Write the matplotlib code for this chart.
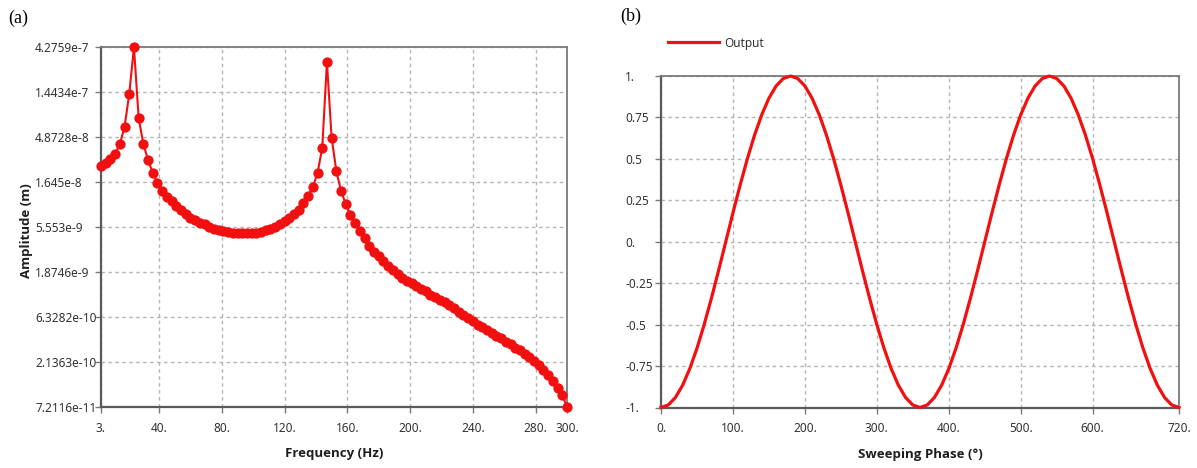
import matplotlib
matplotlib.use("Agg")
import matplotlib.pyplot as plt

# ---------------- data: panel (a) frequency response ----------------
freq_hz = [3, 6, 9, 12, 15, 18, 21, 24, 27, 30, 33, 36, 39, 42, 45, 48, 51, 54, 57, 60,
           63, 66, 69, 72, 75, 78, 81, 84, 87, 90, 93, 96, 99, 102, 105, 108, 111, 114, 117, 120,
           123, 126, 129, 132, 135, 138, 141, 144, 147, 150, 153, 156, 159, 162, 165, 168, 171, 174, 177, 180,
           183, 186, 189, 192, 195, 198, 201, 204, 207, 210, 213, 216, 219, 222, 225, 228, 231, 234, 237, 240,
           243, 246, 249, 252, 255, 258, 261, 264, 267, 270, 273, 276, 279, 282, 285, 288, 291, 294, 297, 300]
amplitude_m = [2.42e-8, 2.60e-8, 2.865e-8, 3.23e-8, 4.11e-8, 6.20e-8, 1.375e-7, 4.2759e-7, 7.70e-8, 4.11e-8,
               2.80e-8, 2.04e-8, 1.606e-8, 1.323e-8, 1.159e-8, 1.04e-8, 9.22e-9, 8.27e-9, 7.60e-9, 6.98e-9,
               6.57e-9, 6.19e-9, 5.90e-9, 5.62e-9, 5.35e-9, 5.16e-9, 5.04e-9, 4.92e-9, 4.84e-9, 4.80e-9,
               4.77e-9, 4.77e-9, 4.80e-9, 4.86e-9, 4.98e-9, 5.16e-9, 5.35e-9, 5.62e-9, 5.97e-9, 6.42e-9,
               6.98e-9, 7.60e-9, 8.47e-9, 9.91e-9, 1.173e-8, 1.457e-8, 2.04e-8, 3.74e-8, 2.977e-7, 4.75e-8,
               2.145e-8, 1.323e-8, 9.67e-9, 7.42e-9, 6.11e-9, 5.04e-9, 4.21e-9, 3.55e-9, 3.04e-9, 2.79e-9,
               2.47e-9, 2.19e-9, 1.967e-9, 1.773e-9, 1.63e-9, 1.526e-9, 1.437e-9, 1.346e-9, 1.258e-9, 1.171e-9,
               1.089e-9, 1.025e-9, 9.61e-10, 8.98e-10, 8.39e-10, 7.77e-10, 7.17e-10, 6.64e-10, 6.17e-10, 5.68e-10,
               5.28e-10, 4.95e-10, 4.62e-10, 4.30e-10, 4.00e-10, 3.78e-10, 3.50e-10, 3.26e-10, 3.03e-10, 2.82e-10,
               2.59e-10, 2.41e-10, 2.21e-10, 1.99e-10, 1.76e-10, 1.56e-10, 1.35e-10, 1.14e-10, 9.63e-11, 7.2116e-11]

a_xticks = [3, 40, 80, 120, 160, 200, 240, 280, 300]
a_xticklabels = ["3.", "40.", "80.", "120.", "160.", "200.", "240.", "280.", "300."]
a_yticks = [4.2759e-7, 1.4434e-7, 4.8728e-8, 1.645e-8, 5.553e-9, 1.8746e-9, 6.3282e-10, 2.1363e-10, 7.2116e-11]
a_yticklabels = ["4.2759e-7", "1.4434e-7", "4.8728e-8", "1.645e-8", "5.553e-9", "1.8746e-9",
                 "6.3282e-10", "2.1363e-10", "7.2116e-11"]

# ---------------- data: panel (b) sweeping phase ----------------
phase_deg = [0, 10, 20, 30, 40, 50, 60, 70, 80, 90, 100, 110, 120, 130, 140, 150, 160, 170, 180,
             190, 200, 210, 220, 230, 240, 250, 260, 270, 280, 290, 300, 310, 320, 330, 340, 350, 360,
             370, 380, 390, 400, 410, 420, 430, 440, 450, 460, 470, 480, 490, 500, 510, 520, 530, 540,
             550, 560, 570, 580, 590, 600, 610, 620, 630, 640, 650, 660, 670, 680, 690, 700, 710, 720]
output = [-1.0, -0.985, -0.94, -0.866, -0.766, -0.643, -0.5, -0.342, -0.174, 0.0, 0.174, 0.342, 0.5, 0.643,
          0.766, 0.866, 0.94, 0.985, 1.0,
          0.985, 0.94, 0.866, 0.766, 0.643, 0.5, 0.342, 0.174, 0.0, -0.174, -0.342, -0.5, -0.643, -0.766,
          -0.866, -0.94, -0.985, -1.0,
          -0.985, -0.94, -0.866, -0.766, -0.643, -0.5, -0.342, -0.174, 0.0, 0.174, 0.342, 0.5, 0.643,
          0.766, 0.866, 0.94, 0.985, 1.0,
          0.985, 0.94, 0.866, 0.766, 0.643, 0.5, 0.342, 0.174, 0.0, -0.174, -0.342, -0.5, -0.643, -0.766,
          -0.866, -0.94, -0.985, -1.0]
b_xticks = [0, 100, 200, 300, 400, 500, 600, 720]
b_xticklabels = ["0.", "100.", "200.", "300.", "400.", "500.", "600.", "720."]
b_yticks = [1, 0.75, 0.5, 0.25, 0, -0.25, -0.5, -0.75, -1]
b_yticklabels = ["1.", "0.75", "0.5", "0.25", "0.", "-0.25", "-0.5", "-0.75", "-1."]

# ---------------- styling ----------------
W, H = 1197, 468
RED = "#f20f0f"
TICKCOL = "#333333"
GRIDCOL = "#b4b4b4"
plt.rcParams["font.family"] = ["Noto Sans", "DejaVu Sans"]
LABEL_FONT = dict(family=["Open Sans", "DejaVu Sans"], fontsize=9.5, fontweight="bold", color="#1e1e1e")

fig = plt.figure(figsize=(W / 100, H / 100), dpi=100)


def fig_rect(left, top, right, bottom):
    return [left / W, 1 - bottom / H, (right - left) / W, (bottom - top) / H]


def style_axes(ax, ylab_left_px, axes_left_px):
    for side in ("left", "bottom"):
        ax.spines[side].set_color("#5a5a5a")
        ax.spines[side].set_linewidth(1.6)
    for side in ("top", "right"):
        ax.spines[side].set_color("#7a7a7a")
        ax.spines[side].set_linewidth(1.3)
    ax.grid(True, color=GRIDCOL, linestyle=(0, (2.5, 2.5)), linewidth=1.0)
    ax.set_axisbelow(True)
    ticklen = 4.5
    pad_px = axes_left_px - ylab_left_px
    ypad = pad_px * 0.72 - ticklen
    ax.tick_params(axis="both", direction="out", length=ticklen, width=1.0, color="#7a7a7a",
                   labelsize=8.5, labelcolor=TICKCOL)
    ax.tick_params(axis="x", pad=6)
    ax.tick_params(axis="y", pad=ypad)
    for lab in ax.get_yticklabels():
        lab.set_horizontalalignment("left")


# ---------------- panel (a) ----------------
ax1 = fig.add_axes(fig_rect(101, 47, 567, 407))
ax1.set_yscale("log")
ax1.plot(freq_hz, amplitude_m, color=RED, linewidth=1.5, marker="o", markersize=7.4,
         markeredgewidth=0, clip_on=False, zorder=3)
ax1.set_xlim(3, 300)
ax1.set_ylim(7.2116e-11, 4.2759e-7)
ax1.set_xticks(a_xticks)
ax1.set_xticklabels(a_xticklabels)
ax1.set_yticks(a_yticks)
ax1.set_yticklabels(a_yticklabels)
ax1.yaxis.set_minor_locator(matplotlib.ticker.NullLocator())
style_axes(ax1, 35, 101)
ax1.set_xlabel("Frequency (Hz)", labelpad=9, **LABEL_FONT)
ax1.set_ylabel("Amplitude (m)", **LABEL_FONT)
ax1.yaxis.set_label_coords(-(101 - 33) / 466, 0.49)

# ---------------- panel (b) ----------------
ax2 = fig.add_axes(fig_rect(661, 76, 1179, 407.5))
ax2.plot(phase_deg, output, color=RED, linewidth=2.3, clip_on=False, zorder=3, label="Output")
ax2.set_xlim(0, 720)
ax2.set_ylim(-1, 1)
ax2.set_xticks(b_xticks)
ax2.set_xticklabels(b_xticklabels)
ax2.set_yticks(b_yticks)
ax2.set_yticklabels(b_yticklabels)
style_axes(ax2, 625, 661)
ax2.set_xlabel("Sweeping Phase (°)", labelpad=9, **LABEL_FONT)
ax2.legend(loc="center left", bbox_to_anchor=(668 / W, 1 - 43 / H), bbox_transform=fig.transFigure,
           frameon=False, fontsize=8.5, handlelength=4.3, handletextpad=0.5, borderpad=0,
           borderaxespad=0, labelcolor=TICKCOL)

# ---------------- panel labels ----------------
fig.text(8 / W, 1 - 18 / H, "(a)", family="Liberation Serif", fontsize=13, va="center", ha="left")
fig.text(620 / W, 1 - 16 / H, "(b)", family="Liberation Serif", fontsize=13, va="center", ha="left")

fig.savefig("out.png", dpi=100)
